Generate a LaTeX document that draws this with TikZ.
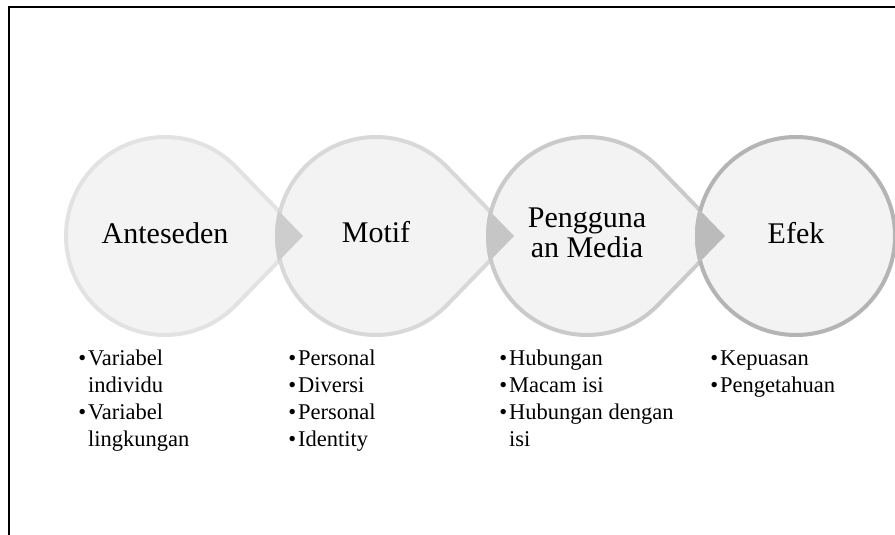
\documentclass[tikz,border=0pt]{standalone}
\usepackage{fontspec}
\setmainfont{Liberation Serif}
\usepackage{tikz}
\usetikzlibrary{calc}
\definecolor{discfill}{HTML}{F3F3F3}
\definecolor{ringa}{HTML}{E2E2E2}
\definecolor{ringb}{HTML}{D8D8D8}
\definecolor{ringc}{HTML}{CACACA}
\definecolor{ringd}{HTML}{B4B4B4}
\definecolor{tipa}{HTML}{CDCDCD}
\definecolor{tipb}{HTML}{C6C6C6}
\definecolor{tipc}{HTML}{BBBBBB}
\newcommand{\drop}[1]{($(#1)+(138,0)$) -- ($(#1)+(44.2:99)$) arc[start angle=44.2, end angle=315.8, radius=99] -- cycle}

\begin{document}
\begin{tikzpicture}[x=1pt, y=-1pt,
  title/.style={font=\fontsize{30}{30}\selectfont, align=center, inner sep=0pt},
  item/.style={anchor=base west, font=\fontsize{22.5}{27}\selectfont, inner sep=0pt}]
\useasboundingbox (0,0) rectangle (895,535);
\draw[line width=2pt] (8,7) -- (895,7);
\draw[line width=1.6pt] (9,7) -- (9,535);
% circles
\coordinate (c1) at (165,236);
\coordinate (c2) at (376,236);
\coordinate (c3) at (587,236);
\coordinate (c4) at (796,236);
\draw[line width=4pt, ringa, fill=discfill] \drop{c1};
\draw[line width=4pt, ringb, fill=discfill] \drop{c2};
\draw[line width=4pt, ringc, fill=discfill] \drop{c3};
\draw[line width=4pt, ringd, fill=discfill] (c4) circle[radius=99];
% arrow tips over the next circle
\foreach \a/\b/\col in {c1/c2/tipa, c2/c3/tipb, c3/c4/tipc} {
  \begin{scope}
    \clip (\b) circle[radius=101];
    \fill[\col] \drop{\a};
  \end{scope}
}
\node[title, anchor=base] (anteseden) at (165,243) {Anteseden};
\node[title, anchor=base] (motif) at (376,242) {Motif};
\node[title] (media) at (587,233) {Pengguna\\an Media};
\node[title, anchor=base] (efek) at (796,243) {Efek};
% lists
\node[item] (a1) at (88,365) {\llap{\textbullet\hspace{2pt}}Variabel};
\node[item] (a2) at (88,392) {individu};
\node[item] (a3) at (88,419) {\llap{\textbullet\hspace{2pt}}Variabel};
\node[item] (a4) at (88,446) {lingkungan};
\foreach \t [count=\i] in {Personal, Diversi, Personal, Identity}
  \node[item] (m\i) at (298,338+27*\i) {\llap{\textbullet\hspace{2pt}}\t};
\node[item] (p1) at (509,365) {\llap{\textbullet\hspace{2pt}}Hubungan};
\node[item] (p2) at (509,392) {\llap{\textbullet\hspace{2pt}}Macam isi};
\node[item] (p3) at (509,419) {\llap{\textbullet\hspace{2pt}}Hubungan dengan};
\node[item] (p4) at (509,446) {isi};
\node[item] (e1) at (720,365) {\llap{\textbullet\hspace{2pt}}Kepuasan};
\node[item] (e2) at (720,392) {\llap{\textbullet\hspace{2pt}}Pengetahuan};
\end{tikzpicture}
\end{document}
